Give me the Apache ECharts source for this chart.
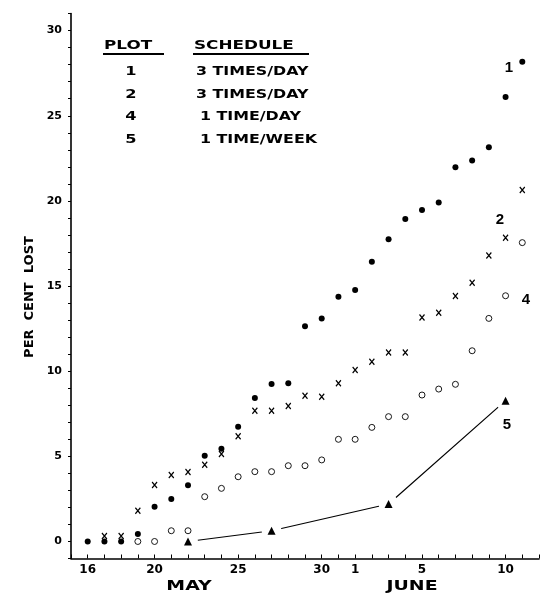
<!DOCTYPE html>
<html><head><meta charset="utf-8">
<script src="https://cdn.jsdelivr.net/npm/echarts@6/dist/echarts.min.js"></script>
<style>html,body{margin:0;padding:0;background:#fff}#c{width:542px;height:595px}</style>
</head><body><div id="c"></div>
<script>
// day numbers counted from 1 May (June 1 = 32)
const days1 = [16,17,18,19,20,21,22,23,24,25,26,27,28,29,30,31,32,33,34,35,36,37,38,39,40,41,42];
const plot1 = [0,0,0,0.44,2.04,2.5,3.3,5.04,5.45,6.74,8.43,9.25,9.29,12.64,13.1,14.37,14.77,16.43,17.75,18.94,19.47,19.9,21.97,22.38,23.15,26.1,28.17];
const days2 = [17,18,19,20,21,22,23,24,25,26,27,28,29,30,31,32,33,34,35,36,37,38,39,40,41,42];
const plot2 = [0.32,0.32,1.81,3.32,3.9,4.08,4.51,5.14,6.18,7.68,7.68,7.96,8.56,8.5,9.29,10.07,10.56,11.1,11.1,13.16,13.43,14.42,15.2,16.8,17.84,20.64];
const days4 = [19,20,21,22,23,24,25,26,27,28,29,30,31,32,33,34,35,36,37,38,39,40,41,42];
const plot4 = [0,0,0.63,0.63,2.63,3.12,3.8,4.1,4.1,4.45,4.45,4.79,6.0,6.0,6.7,7.33,7.33,8.6,8.95,9.23,11.2,13.1,14.43,17.55];
const days5 = [22,27,34,41];
const plot5 = [0,0.63,2.2,8.27];
const xTickDays = [16,20,25,30,32,36,41];
const xTickLabels = ['16','20','25','30','1','5','10'];
const yTickValues = [0,5,10,15,20,25,30];
const monthLabels = ['MAY','JUNE'];
const plotNames = ['1','2','4','5'];
const schedules = ['3 TIMES/DAY','3 TIMES/DAY','1 TIME/DAY','1 TIME/WEEK'];

const pair = (xs, ys) => xs.map((x, i) => [x, ys[i]]);
const FONT = '"DejaVu Sans", sans-serif';
const INK = '#000';

const chart = echarts.init(document.getElementById('c'), null, {renderer: 'canvas'});

const graphics = [];
// y axis title
graphics.push({type:'text', x:30, y:297, rotation:Math.PI/2,
  style:{text:'PER  CENT  LOST', font:'bold 13px ' + FONT, fill:INK, align:'center', verticalAlign:'middle'}});
// month labels
graphics.push({type:'text', x:189, y:586, scaleX:1.35, style:{text:monthLabels[0], font:'bold 14px ' + FONT, fill:INK, align:'center', verticalAlign:'middle'}});
graphics.push({type:'text', x:412, y:586, scaleX:1.35, style:{text:monthLabels[1], font:'bold 14px ' + FONT, fill:INK, align:'center', verticalAlign:'middle'}});
// legend table
graphics.push({type:'text', x:104, y:46, scaleX:1.4, style:{text:'PLOT', font:'bold 12px ' + FONT, fill:INK, align:'left', verticalAlign:'middle'}});
graphics.push({type:'text', x:194, y:46, scaleX:1.4, style:{text:'SCHEDULE', font:'bold 12px ' + FONT, fill:INK, align:'left', verticalAlign:'middle'}});
graphics.push({type:'line', shape:{x1:103, y1:54, x2:164, y2:54}, style:{stroke:INK, lineWidth:2}});
graphics.push({type:'line', shape:{x1:193, y1:54, x2:309, y2:54}, style:{stroke:INK, lineWidth:2}});
const rowY = [71.5, 94.5, 117, 139.5];
plotNames.forEach((p, i) => {
  graphics.push({type:'text', x:131, y:rowY[i], scaleX:1.35, style:{text:p, font:'bold 12px ' + FONT, fill:INK, align:'center', verticalAlign:'middle'}});
  graphics.push({type:'text', x:(i < 2 ? 196 : 200), y:rowY[i], scaleX:1.32, style:{text:schedules[i], font:'bold 12px ' + FONT, fill:INK, align:'left', verticalAlign:'middle'}});
});
// series labels near the curves
const curveLabelPos = [[509,68],[500,220],[526,300],[507,425]];
plotNames.forEach((p, i) => {
  graphics.push({type:'text', x:curveLabelPos[i][0], y:curveLabelPos[i][1],
    style:{text:p, font:'bold 15px "Liberation Sans", sans-serif', fill:INK, align:'center', verticalAlign:'middle'}});
});

const xMap = {};
xTickDays.forEach((d, i) => { xMap[d] = xTickLabels[i]; });

chart.setOption({
  animation:false,
  backgroundColor:'#fff',
  grid:{left:71, right:0.6, top:13.6, bottom:36.5, containLabel:false},
  xAxis:{type:'value', min:15, max:43, interval:1,
    axisLine:{show:true, onZero:false, lineStyle:{color:INK, width:1.6}},
    axisTick:{show:true, inside:true, length:4, lineStyle:{color:INK, width:1}},
    splitLine:{show:false},
    axisLabel:{show:true, margin:5, fontFamily:FONT, fontWeight:'bold', fontSize:12, color:INK,
      showMinLabel:true, showMaxLabel:true,
      formatter:v => (xMap[v] !== undefined ? xMap[v] : '')}
  },
  yAxis:{type:'value', min:-1, max:31, interval:1,
    axisLine:{show:true, onZero:false, lineStyle:{color:INK, width:1.6}},
    axisTick:{show:true, inside:false, length:3, lineStyle:{color:INK, width:1}},
    splitLine:{show:false},
    axisLabel:{show:true, margin:9, fontFamily:FONT, fontWeight:'bold', fontSize:11, color:INK,
      formatter:v => (yTickValues.indexOf(v) >= 0 ? String(v) : '')}
  },
  series:[
    {type:'line', data:pair(days5, plot5), showSymbol:false, lineStyle:{color:INK, width:1.2}, z:1, silent:true},
    {type:'scatter', data:pair(days5, plot5), symbol:'circle', symbolSize:20, itemStyle:{color:'#fff', opacity:1}, z:2, silent:true},
    {type:'scatter', data:pair(days5, plot5), symbol:'triangle', symbolSize:8, itemStyle:{color:INK, opacity:1}, z:3},
    {type:'scatter', data:pair(days4, plot4), symbol:'circle', symbolSize:6, itemStyle:{color:'#fff', borderColor:INK, borderWidth:0.9, opacity:1}, z:4},
    {type:'scatter', data:pair(days2, plot2), symbol:'path://M0,0L10,10M10,0L0,10', symbolSize:[5,6],
      itemStyle:{color:'none', borderColor:INK, borderWidth:1.3, opacity:1}, z:4},
    {type:'scatter', data:pair(days1, plot1), symbol:'circle', symbolSize:6, itemStyle:{color:INK, opacity:1}, z:4}
  ],
  graphic:graphics
});
</script></body></html>
